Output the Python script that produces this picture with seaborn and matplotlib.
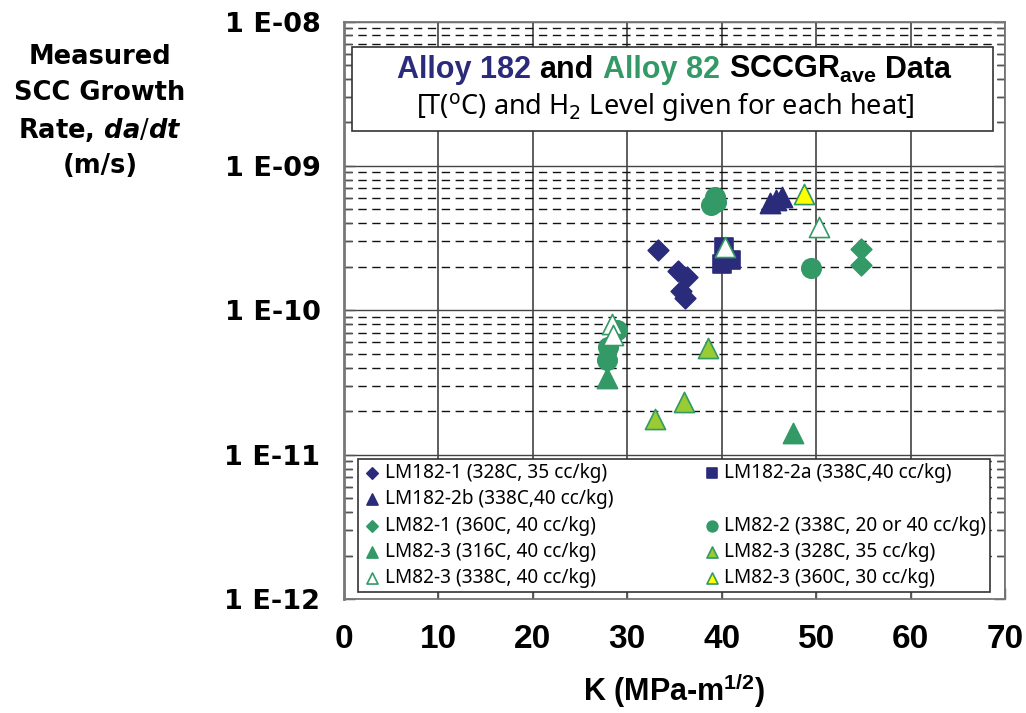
import matplotlib
matplotlib.use('Agg')
import matplotlib.pyplot as plt
import seaborn as sns
from matplotlib.patches import Rectangle
from matplotlib.lines import Line2D
from matplotlib.ticker import FixedLocator, LogLocator, NullFormatter

sns.set_style('white')
plt.rcParams['font.family'] = ['DejaVu Sans']
plt.rcParams['text.color'] = 'black'
plt.rcParams['mathtext.fontset'] = 'custom'
plt.rcParams['mathtext.rm'] = 'DejaVu Sans'
plt.rcParams['mathtext.it'] = 'DejaVu Sans:italic:bold'
plt.rcParams['mathtext.bf'] = 'Liberation Sans:bold'

NAVY = '#2b2b7b'
GREEN = '#339966'
LIME = '#99cc33'
YELLOW = '#ffff00'
ARIAL = ['Liberation Sans', 'DejaVu Sans']
TAHOMA = ['Noto Sans', 'DejaVu Sans']

# %% data (K in MPa-m^1/2, da/dt in m/s)
lm182_1_K = [33.2, 35.4, 36.3, 35.7, 36.1]
lm182_1_rate = [2.62e-10, 1.88e-10, 1.71e-10, 1.35e-10, 1.21e-10]
lm182_2a_K = [40.2, 40.0, 41.0]
lm182_2a_rate = [2.76e-10, 2.10e-10, 2.24e-10]
lm182_2b_K = [45.1, 45.8, 46.4]
lm182_2b_rate = [5.52e-10, 5.81e-10, 6.12e-10]
lm82_1_K = [54.8, 54.8]
lm82_1_rate = [2.66e-10, 2.06e-10]
lm82_2_K = [39.3, 38.9, 39.4, 49.5, 28.9, 28.0, 27.8]
lm82_2_rate = [6.1e-10, 5.37e-10, 5.66e-10, 1.95e-10, 7.3e-11, 5.6e-11, 4.53e-11]
lm82_3_316_K = [27.8, 47.5]
lm82_3_316_rate = [3.4e-11, 1.41e-11]
lm82_3_328_K = [38.6, 36.0, 32.9]
lm82_3_328_rate = [5.46e-11, 2.33e-11, 1.76e-11]
lm82_3_338_K = [40.3, 50.3, 28.4, 28.5]
lm82_3_338_rate = [2.76e-10, 3.76e-10, 8.0e-11, 6.75e-11]
lm82_3_360_K = [48.7]
lm82_3_360_rate = [6.4e-10]

x_ticks = [0, 10, 20, 30, 40, 50, 60, 70]
y_ticks = [1e-12, 1e-11, 1e-10, 1e-9, 1e-8]
y_tick_labels = ['1 E-12', '1 E-11', '1 E-10', '1 E-09', '1 E-08']

# label, K, rate, marker, size, face, edge
series = [
    ('LM182-1 (328C, 35 cc/kg)', lm182_1_K, lm182_1_rate, 'D', 110, NAVY, NAVY),
    ('LM182-2a (338C,40 cc/kg)', lm182_2a_K, lm182_2a_rate, 's', 175, NAVY, NAVY),
    ('LM182-2b (338C,40 cc/kg)', lm182_2b_K, lm182_2b_rate, '^', 210, NAVY, NAVY),
    ('LM82-1 (360C, 40 cc/kg)', lm82_1_K, lm82_1_rate, 'D', 110, GREEN, GREEN),
    ('LM82-2 (338C, 20 or 40 cc/kg)', lm82_2_K, lm82_2_rate, 'o', 195, GREEN, GREEN),
    ('LM82-3 (316C, 40 cc/kg)', lm82_3_316_K, lm82_3_316_rate, '^', 210, GREEN, GREEN),
    ('LM82-3 (328C, 35 cc/kg)', lm82_3_328_K, lm82_3_328_rate, '^', 210, LIME, GREEN),
    ('LM82-3 (338C, 40 cc/kg)', lm82_3_338_K, lm82_3_338_rate, '^', 210, 'white', GREEN),
    ('LM82-3 (360C, 30 cc/kg)', lm82_3_360_K, lm82_3_360_rate, '^', 210, YELLOW, GREEN),
]

W, H = 1026, 713
fig = plt.figure(figsize=(W / 100, H / 100), dpi=100)
ax = fig.add_axes([344 / W, 1 - 599 / H, (1005 - 344) / W, (599 - 21.5) / H])

for label, K, rate, mk, s, fc, ec in series:
    sns.scatterplot(x=K, y=rate, marker=mk, s=s, color=fc, edgecolor=ec,
                    linewidth=1.2, label=label, ax=ax, zorder=3)

ax.set_yscale('log')
ax.set_ylim(1e-12, 1e-8)
ax.set_xlim(0, 70)
ax.xaxis.set_major_locator(FixedLocator(x_ticks))
ax.set_xticklabels([str(v) for v in x_ticks])
ax.yaxis.set_major_locator(FixedLocator(y_ticks))
ax.set_yticklabels(y_tick_labels)
ax.yaxis.set_minor_locator(LogLocator(base=10, subs=range(2, 10), numticks=20))
ax.yaxis.set_minor_formatter(NullFormatter())

ax.grid(which='major', axis='y', color='#444444', lw=1.0, ls='-')
ax.grid(which='minor', axis='y', color='#111111', lw=1.0, ls=(0, (6, 4)))
ax.grid(which='major', axis='x', color='#333333', lw=1.1, ls='-')
ax.set_axisbelow(True)

ax.tick_params(which='both', direction='in', left=True, right=True, bottom=True, top=False,
               color='#555555', labelcolor='black')
ax.tick_params(which='major', length=8, width=1)
ax.tick_params(which='minor', length=6, width=1)
ax.tick_params(axis='y', which='major', pad=17, labelsize=19.5)
ax.tick_params(axis='x', which='major', pad=18, labelsize=24)
for lab in ax.get_yticklabels():
    lab.set_fontweight('bold')
for lab in ax.get_xticklabels():
    lab.set_fontweight('bold')
    lab.set_family(ARIAL)
for side, sp in ax.spines.items():
    sp.set_color('#777777')
    sp.set_linewidth(1.3)
ax.spines['left'].set_linewidth(2)
ax.set_xlabel('')
ax.set_ylabel('')

# legend in the order of the reference (column-wise, with one blank slot)
h, l = ax.get_legend_handles_labels()
blank = Line2D([], [], linestyle='none', marker='none')
order = [0, 2, 3, 5, 7, 1, None, 4, 6, 8]
handles = [blank if i is None else h[i] for i in order]
labels = [' ' if i is None else l[i] for i in order]
leg = ax.legend(handles, labels, ncol=2, loc='lower left',
                bbox_to_anchor=(0.021, 0.012, 0.956, 0.229), mode='expand',
                frameon=True, fancybox=False, edgecolor='#333333', framealpha=1,
                prop={'family': TAHOMA, 'size': 13.7}, handletextpad=0.1,
                handlelength=1.1, borderaxespad=0, labelspacing=0.33,
                markerscale=0.55, borderpad=0.2, columnspacing=1.0)
leg.get_frame().set_linewidth(1.2)
leg.set_zorder(5)
for t in leg.get_texts():
    t.set_color('black')

# title box
ax.add_patch(Rectangle((0.012, 0.810), 0.970, 0.146, transform=ax.transAxes,
                       facecolor='white', edgecolor='#333333', lw=1.2, zorder=4))

renderer = fig.canvas.get_renderer()
pieces = [('Alloy 182', NAVY), ('and', 'black'), ('Alloy 82', GREEN),
          (r'SCCGR$_{\mathbf{ave}}$', 'black'), ('Data', 'black')]
texts = [fig.text(0, 1 - 78 / H, s, color=c, fontsize=22, fontweight='bold',
                  family=ARIAL, ha='left', va='baseline', zorder=6)
         for s, c in pieces]
widths = [t.get_window_extent(renderer).width for t in texts]
gap = 9
x = 674 - (sum(widths) + gap * (len(widths) - 1)) / 2
for t, w in zip(texts, widths):
    t.set_x(x / W)
    x += w + gap
fig.text(665 / W, 1 - 115 / H, r'[T($^\mathrm{o}$C) and H$_2$ Level given for each heat]',
         fontsize=19.5, family=TAHOMA, ha='center', va='baseline', zorder=6)

# y axis title
ylab_lines = ['Measured', 'SCC Growth', r'Rate, $da/dt$', '(m/s)']
for txt, yy in zip(ylab_lines, [57, 93, 130, 166]):
    fig.text(100 / W, 1 - yy / H, txt, fontsize=18.5, fontweight='bold',
             ha='center', va='center')

# x axis title
fig.text(674 / W, 1 - 690 / H, r'K (MPa-m$^{\mathbf{1/2}}$)', fontsize=22,
         fontweight='bold', family=ARIAL, ha='center', va='center')

fig.savefig('out.png', dpi=100)
